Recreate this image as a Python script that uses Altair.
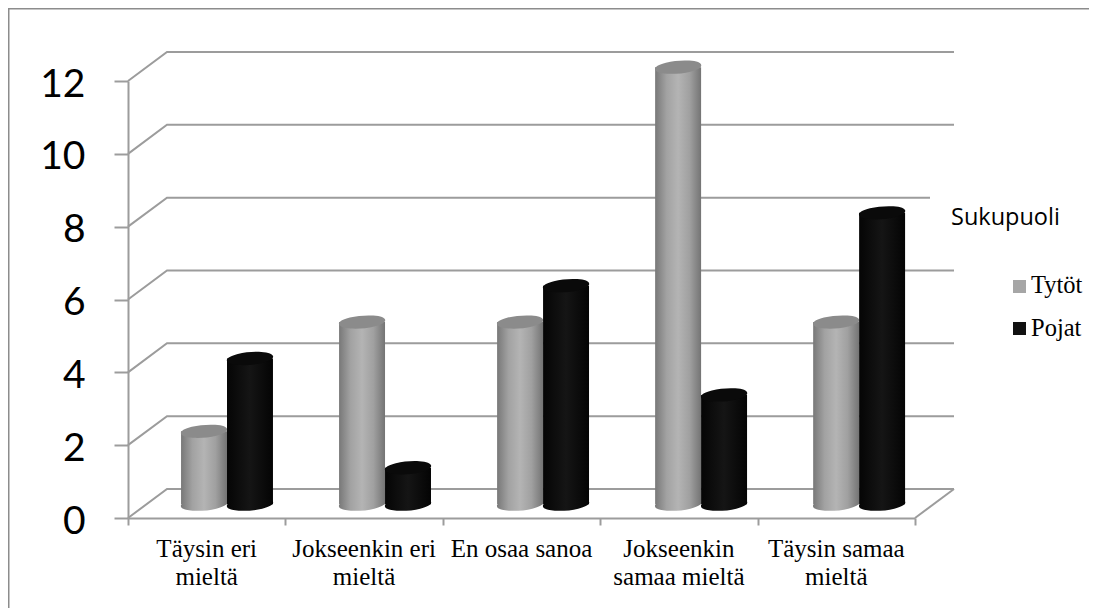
import altair as alt
import pandas as pd

categories = ["Täysin eri\nmieltä", "Jokseenkin eri\nmieltä", "En osaa sanoa", "Jokseenkin\nsamaa mieltä", "Täysin samaa\nmieltä"]
tytot = [2, 5, 5, 12, 5]
pojat = [4, 1, 6, 3, 8]
series = ["Tytöt", "Pojat"]
y_ticks = [0, 2, 4, 6, 8, 10, 12]
x_ticks = [0, 1, 2, 3, 4, 5]

# 3D look, expressed in axis units
DX = 0.2478      # depth of the wall along x
DY = 0.797       # depth of the wall along y
BASE = 0.38      # bars stand in the middle of the floor
BAR = 0.292      # bar width in category units
PITCH = 1.004    # spacing of the bar groups
OFFS = {"Tytöt": 0.483, "Pojat": 0.775}

GRID = "#9c9c9c"
FRAME = "#8c8c8c"

W, H = 787, 437
xs = alt.Scale(domain=[0, 5], nice=False, zero=False)
ys = alt.Scale(domain=[0, 12], nice=False, zero=False)

X_AXIS = alt.Axis(values=x_ticks, labels=False, grid=False, tickSize=7, tickWidth=2,
                  tickColor=GRID, domainColor=GRID, domainWidth=2, title=None)
Y_AXIS = alt.Axis(values=y_ticks, grid=False, tickSize=14, tickWidth=2, tickColor=GRID,
                  domainColor=GRID, domainWidth=2, labelFont="Lato", labelFontSize=39,
                  labelColor="#000000", labelPadding=29, labelBaseline="middle",
                  labelOffset=3, title=None)


def qx(field):
    return alt.X(field, scale=xs, axis=X_AXIS, title=None)


def qy(field):
    return alt.Y(field, scale=ys, axis=Y_AXIS, title=None)


grid_rows = []
for v in y_ticks:
    grid_rows += [
        {"g": f"w{v}", "o": 0, "x": 0, "y": v},
        {"g": f"w{v}", "o": 1, "x": DX, "y": v + DY},
        {"g": f"w{v}", "o": 2, "x": 5 + DX, "y": v + DY},
    ]
grid_rows += [
    {"g": "floor", "o": 0, "x": 5, "y": 0},
    {"g": "floor", "o": 1, "x": 5 + DX, "y": DY},
]
grid_df = pd.DataFrame(grid_rows)

grid = alt.Chart(grid_df).mark_line(color=GRID, strokeWidth=2, clip=False).encode(
    x=qx("x:Q"), y=qy("y:Q"), detail="g:N", order="o:Q")

frame_v = alt.Chart(pd.DataFrame({"k": [1]})).mark_rule(color=FRAME, strokeWidth=2).encode(
    x=alt.value(-119.5), y=alt.value(-73), y2=alt.value(527))
frame_h = alt.Chart(pd.DataFrame({"k": [1]})).mark_rule(color=FRAME, strokeWidth=2).encode(
    y=alt.value(-72.5), x=alt.value(-120), x2=alt.value(961))

title_bg = alt.Chart(pd.DataFrame({"k": [1]})).mark_rect(color="white").encode(
    x=alt.value(802), x2=alt.value(835), y=alt.value(108), y2=alt.value(125))
title_text = alt.Chart(pd.DataFrame({"t": ["Sukupuoli"]})).mark_text(
    font="Open Sans", fontSize=23.5, align="left", baseline="middle", color="#000000"
).encode(x=alt.value(823), y=alt.value(137), text="t:N")

ELLIPSE = "M-0.996,0.087A1,0.27,-5,1,1,0.996,-0.087A1,0.27,-5,1,1,-0.996,0.087Z"
ESIZE = 46.5 ** 2

gradients = {
    "Tytöt": alt.Gradient(gradient="linear", x1=0, x2=1, y1=0, y2=0, stops=[
        alt.GradientStop(color="#787878", offset=0), alt.GradientStop(color="#a2a2a2", offset=0.25),
        alt.GradientStop(color="#b4b4b4", offset=0.5), alt.GradientStop(color="#a0a0a0", offset=0.75),
        alt.GradientStop(color="#747474", offset=1)]),
    "Pojat": alt.Gradient(gradient="linear", x1=0, x2=1, y1=0, y2=0, stops=[
        alt.GradientStop(color="#050505", offset=0), alt.GradientStop(color="#151515", offset=0.5),
        alt.GradientStop(color="#040404", offset=1)]),
}
tops = {"Tytöt": "#8b8b8b", "Pojat": "#0a0a0a"}


def cylinder(name, values):
    df = pd.DataFrame({"i": range(len(values)), "v": values})
    df["c"] = df["i"] * PITCH + OFFS[name]
    df["l"] = df["c"] - BAR / 2
    df["r"] = df["c"] + BAR / 2
    df["t"] = df["v"] + BASE
    df["b"] = BASE
    body = alt.Chart(df).mark_rect(fill=gradients[name], clip=False).encode(
        x=qx("l:Q"), x2="r:Q", y=qy("t:Q"), y2="b:Q")
    bottom = alt.Chart(df).mark_point(shape=ELLIPSE, size=ESIZE, filled=True, fill=gradients[name],
                                      opacity=1, strokeWidth=0).encode(
        x=qx("c:Q"), y=qy("b:Q"))
    top = alt.Chart(df).mark_point(shape=ELLIPSE, size=ESIZE, filled=True, fill=tops[name],
                                   opacity=1, strokeWidth=0).encode(
        x=qx("c:Q"), y=qy("t:Q"))
    return [body, bottom, top]


labels_df = pd.DataFrame({"label": categories, "c": [i + 0.5 for i in range(len(categories))]})
xlabels = alt.Chart(labels_df).mark_text(
    font="Liberation Serif", fontSize=25, lineBreak="\n", lineHeight=28, align="center",
    baseline="alphabetic", color="#000000"
).encode(x=qx("c:Q"), y=alt.value(476), text="label:N")

legend_colors = alt.Scale(domain=series, range=["#a6a6a6", "#111111"])
legend_layers = []
for s, sym_y, txt_y in zip(series, [205.5, 247.5], [212, 255]):
    row = pd.DataFrame({"s": [s]})
    legend_layers.append(alt.Chart(row).mark_square(size=169, opacity=1).encode(
        x=alt.value(891.5), y=alt.value(sym_y),
        color=alt.Color("s:N", scale=legend_colors, legend=None)))
    legend_layers.append(alt.Chart(row).mark_text(
        font="Liberation Serif", fontSize=24.5, align="left", baseline="alphabetic", color="#000000"
    ).encode(x=alt.value(903), y=alt.value(txt_y), text="s:N"))

layers = [grid, frame_v, frame_h, title_bg, title_text]
layers += cylinder("Tytöt", tytot)
layers += cylinder("Pojat", pojat)
layers += [xlabels] + legend_layers

chart = alt.layer(*layers).properties(
    width=W, height=H,
    autosize=alt.AutoSizeParams(type="none"),
    padding={"left": 120, "top": 73, "right": 174, "bottom": 90},
    background="white",
).configure_view(stroke=None)

chart.save("out.html", embed_options={"renderer": "svg", "actions": False})
